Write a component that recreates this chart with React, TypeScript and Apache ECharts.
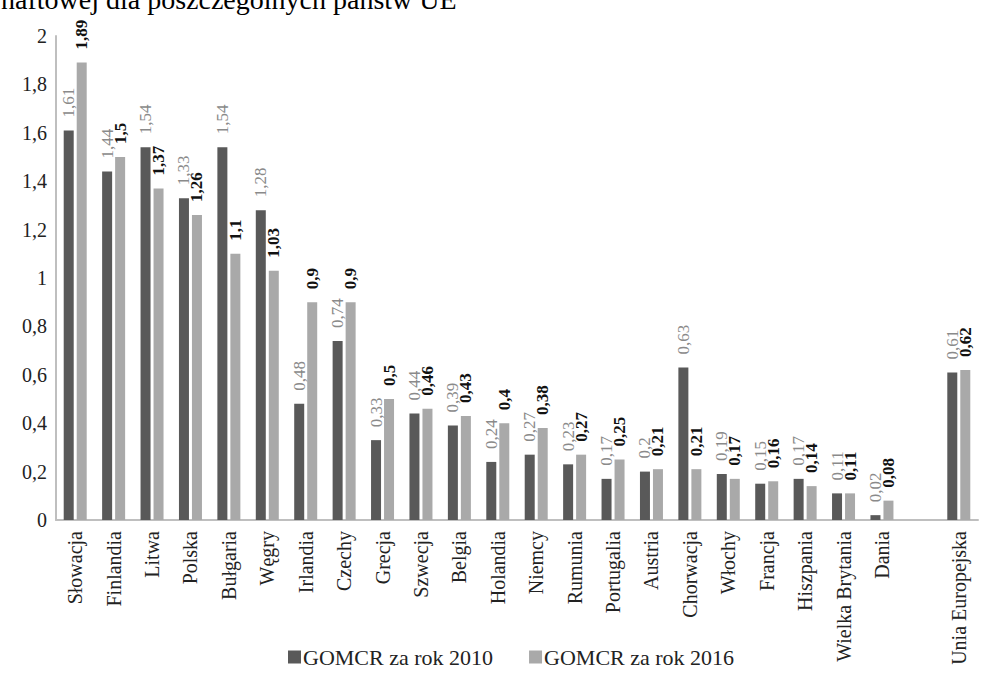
import React, { useEffect, useRef } from "react";
import * as echarts from "echarts";

const categories = [
  "Słowacja", "Finlandia", "Litwa", "Polska", "Bułgaria", "Węgry", "Irlandia", "Czechy",
  "Grecja", "Szwecja", "Belgia", "Holandia", "Niemcy", "Rumunia", "Portugalia", "Austria",
  "Chorwacja", "Włochy", "Francja", "Hiszpania", "Wielka Brytania", "Dania", "", "Unia Europejska",
];
const values2010 = [1.61, 1.44, 1.54, 1.33, 1.54, 1.28, 0.48, 0.74, 0.33, 0.44, 0.39, 0.24, 0.27, 0.23, 0.17, 0.2, 0.63, 0.19, 0.15, 0.17, 0.11, 0.02, null, 0.61];
const values2016 = [1.89, 1.5, 1.37, 1.26, 1.1, 1.03, 0.9, 0.9, 0.5, 0.46, 0.43, 0.4, 0.38, 0.27, 0.25, 0.21, 0.21, 0.17, 0.16, 0.14, 0.11, 0.08, null, 0.62];
const seriesNames = ["GOMCR za rok 2010", "GOMCR za rok 2016"];
const titleText = "naftowej dla poszczególnych państw UE";

const FONT = "Liberation Serif";
const fmt = (v: number) => String(v).replace(".", ",");

export default function App() {
  const ref = useRef<HTMLDivElement>(null);
  useEffect(() => {
    if (!ref.current) return;
    const chart = echarts.init(ref.current, null, { renderer: "svg" });
    chart.setOption({
      animation: false,
      backgroundColor: "#ffffff",
      textStyle: { fontFamily: FONT },
      graphic: [
        {
          type: "text",
          x: 1,
          y: -0.5,
          style: {
            text: titleText,
            fontFamily: FONT,
            fontSize: 28,
            fill: "#000",
            verticalAlign: "middle",
          },
        },
      ],
      legend: {
        bottom: 9,
        left: 283,
        itemWidth: 13,
        itemHeight: 13,
        itemGap: 36,
        icon: "rect",
        textStyle: { fontFamily: FONT, fontSize: 22, color: "#222", padding: [0, 0, 0, -3] },
        data: seriesNames,
      },
      grid: { left: 56, right: 11, top: 36, bottom: 162, containLabel: false },
      xAxis: {
        type: "category",
        data: categories,
        axisLine: { lineStyle: { color: "#bfbfbf", width: 2 } },
        axisTick: { show: false },
        axisLabel: {
          rotate: 90,
          interval: 0,
          margin: 11,
          fontFamily: FONT,
          fontSize: 20,
          color: "#222",
        },
      },
      yAxis: {
        type: "value",
        min: 0,
        max: 2,
        interval: 0.2,
        axisLine: { show: true, lineStyle: { color: "#bfbfbf", width: 2 } },
        axisTick: { show: false },
        splitLine: { show: false },
        axisLabel: {
          margin: 9,
          fontFamily: FONT,
          fontSize: 20,
          color: "#222",
          formatter: (v: number) => fmt(Math.round(v * 10) / 10),
        },
      },
      series: [
        {
          name: seriesNames[0],
          type: "bar",
          data: values2010,
          barWidth: 10,
          barGap: "30%",
          itemStyle: { color: "#595959" },
          label: {
            show: true,
            position: "top",
            rotate: 90,
            align: "left",
            verticalAlign: "middle",
            distance: 13,
            fontFamily: FONT,
            fontSize: 17,
            color: "#8a8a8a",
            formatter: (p: any) => fmt(p.value),
          },
        },
        {
          name: seriesNames[1],
          type: "bar",
          data: values2016,
          barWidth: 10,
          itemStyle: { color: "#a9a9a9" },
          label: {
            show: true,
            position: "top",
            rotate: 90,
            align: "left",
            verticalAlign: "middle",
            distance: 13,
            fontFamily: FONT,
            fontSize: 17,
            fontWeight: "bold",
            color: "#111",
            formatter: (p: any) => fmt(p.value),
          },
        },
      ],
    });
    return () => chart.dispose();
  }, []);
  return <div ref={ref} style={{ width: 989, height: 682, position: "absolute", left: 0, top: 0 }} />;
}
